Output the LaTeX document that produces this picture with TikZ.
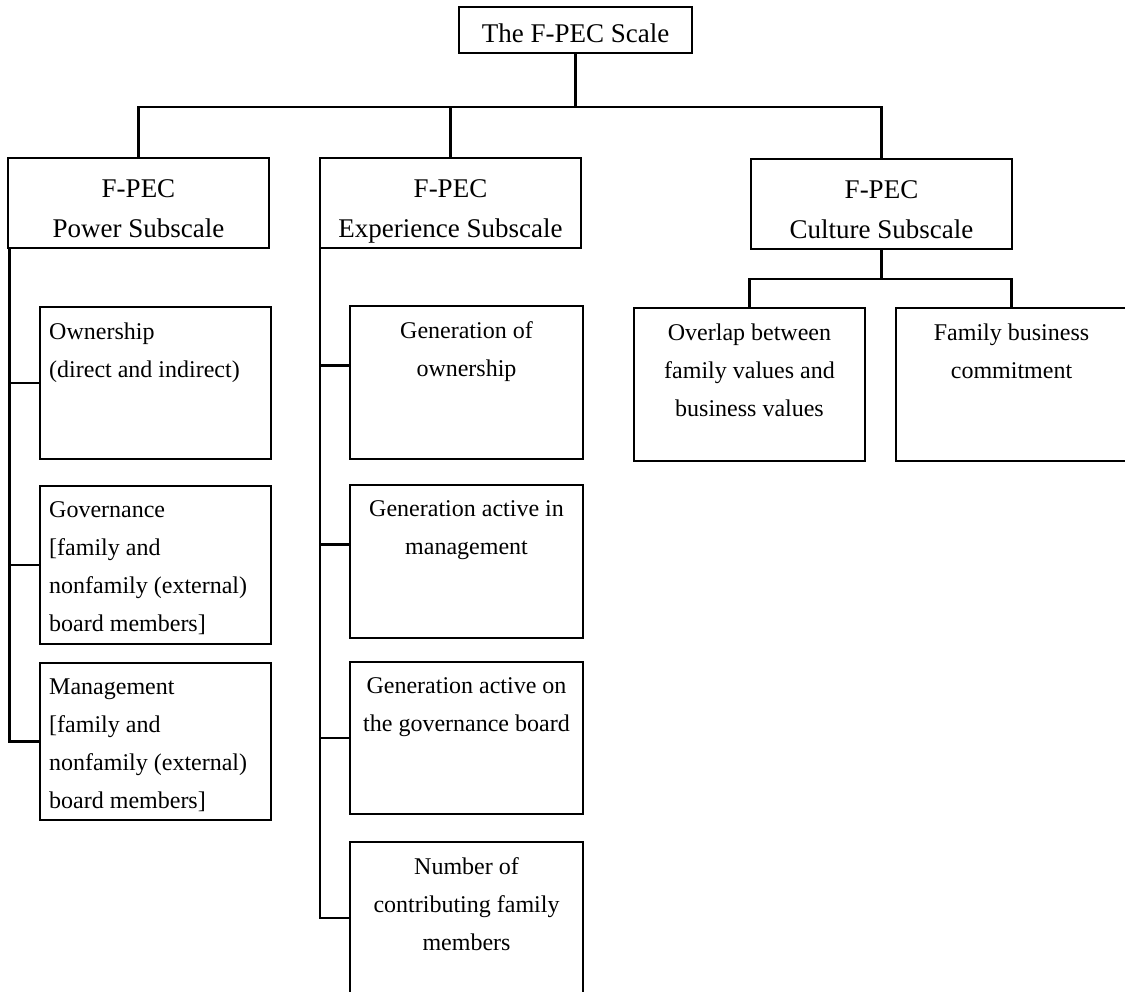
\documentclass[tikz,border=0pt]{standalone}
\usepackage{fontspec}
\setmainfont{Liberation Serif}
\tikzset{
  caixa/.style 2 args={draw, rectangle, line width=2.3pt, inner sep=0pt, outer sep=0pt, anchor=north west, minimum width=#1, minimum height=#2},
  linha/.style={line width=2.3pt},
  titulo/.style={inner sep=0pt, anchor=north, align=center, font=\fontsize{27}{40}\selectfont},
  texto/.style={inner sep=0pt, anchor=north, align=center, font=\fontsize{24}{38}\selectfont},
  textoesq/.style={texto, anchor=north west, align=left},
}
\begin{document}
\begin{tikzpicture}[x=1pt,y=-1pt]
\useasboundingbox (0,0) rectangle (1125,992);
					%Caixa principal
\node[caixa={233pt}{46pt}] (escala) at (459,7) {};
\node[titulo] (escalaT) at ([yshift=-16.6pt]escala.north) {The F-PEC Scale};
					%Subescalas
\node[caixa={261pt}{90pt}] (poder) at (8,158) {};
\node[caixa={261pt}{90pt}] (exper) at (320,158) {};
\node[caixa={261pt}{90pt}] (cult) at (751,159) {};
\node[titulo] (poderT) at ([yshift=-21pt]poder.north) {F-PEC\\Power Subscale};
\node[titulo] (experT) at ([yshift=-21pt]exper.north) {F-PEC\\Experience Subscale};
\node[titulo] (cultT) at ([yshift=-21pt]cult.north) {F-PEC\\Culture Subscale};
					%Ligacoes do topo
\coordinate (barra) at (575.5,107);
\draw[linha] (escala.south) -- (barra);
\draw[linha] (poder.north) |- (barra) -| (cult.north);
\draw[linha] (exper.north) -- (exper.north |- barra);
					%Itens de poder
\node[caixa={231pt}{152pt}] (posse) at (40,307) {};
\node[caixa={231pt}{158pt}] (govern) at (40,486) {};
\node[caixa={231pt}{157pt}] (gestao) at (40,663) {};
\node[textoesq] (posseT) at ([shift={(9,15.6)}]posse.north west) {Ownership\\(direct and indirect)};
\node[textoesq] (governT) at ([shift={(9,15.6)}]govern.north west) {Governance\\{}[family and\\nonfamily (external)\\board members]};
\node[textoesq] (gestaoT) at ([shift={(9,15.6)}]gestao.north west) {Management\\{}[family and\\nonfamily (external)\\board members]};
\coordinate (colP) at ([xshift=1.5pt]poder.south west);
\draw[linha] (colP) |- (gestao.west);
\draw[linha] (colP |- posse.west) -- (posse.west);
\draw[linha] (colP |- govern.west) -- (govern.west);
					%Itens de experiencia
\node[caixa={233pt}{153pt}] (gposse) at (350,306) {};
\node[caixa={233pt}{153pt}] (gativa) at (350,485) {};
\node[caixa={233pt}{152pt}] (gconselho) at (350,662) {};
\node[caixa={233pt}{160pt}] (numero) at (350,842) {};
\node[texto] (gposseT) at ([yshift=-15.6pt]gposse.north) {Generation of\\ownership};
\node[texto] (gativaT) at ([yshift=-15.6pt]gativa.north) {Generation active in\\management};
\node[texto] (gconselhoT) at ([yshift=-15.6pt]gconselho.north) {Generation active on\\the governance board};
\node[texto] (numeroT) at ([yshift=-15.6pt]numero.north) {Number of\\contributing family\\members};
\coordinate (colE) at (exper.south west);
\draw[linha] (colE) |- ([yshift=4pt]numero.west);
\foreach \c/\d in {gposse/17pt, gativa/17pt, gconselho/0pt}
  \draw[linha] ([yshift=\d]\c.west) -- ++(-30,0);
					%Itens de cultura
\node[caixa={231pt}{153pt}] (sobrepos) at (634,308) {};
\node[caixa={231pt}{153pt}] (compromisso) at (896,308) {};
\node[texto] (sobreposT) at ([yshift=-15.6pt]sobrepos.north) {Overlap between\\family values and\\business values};
\node[texto] (compromissoT) at ([yshift=-15.6pt]compromisso.north) {Family business\\commitment};
\coordinate (barraC) at (881.5,279);
\draw[linha] (cult.south) -- (barraC);
\draw[linha] (sobrepos.north) |- (barraC) -| (compromisso.north);
\end{tikzpicture}
\end{document}
